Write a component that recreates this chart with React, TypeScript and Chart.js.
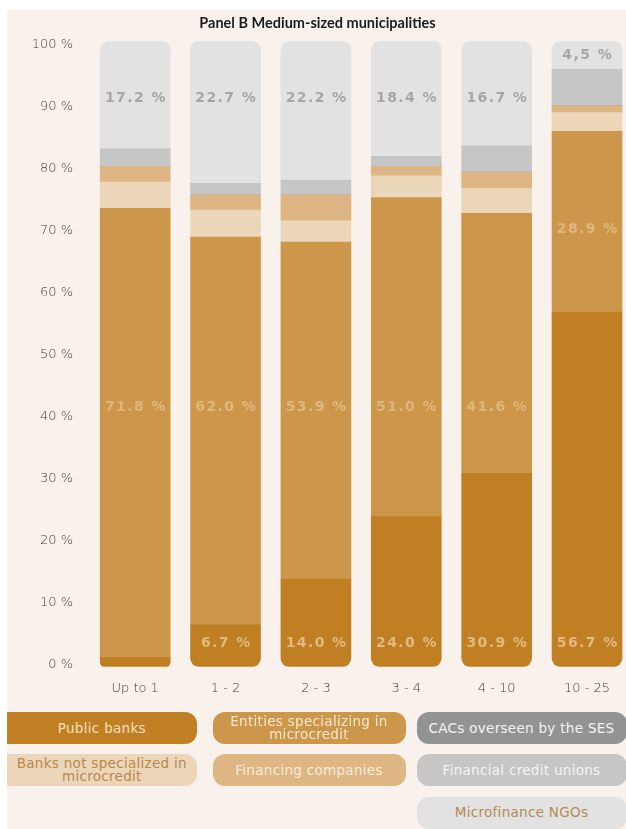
import React, { useEffect, useRef } from "react";
import { Chart, registerables } from "chart.js";

Chart.register(...registerables);

// Municipality size groups (thousands of inhabitants)
const categories = ["Up to 1", "1 - 2", "2 - 3", "3 - 4", "4 - 10", "10 - 25"];

// Share of each provider type, per group (%), stacked bottom to top
const publicBanks = [1.5, 6.7, 14.0, 24.0, 30.9, 56.7];
const microcreditEntities = [71.8, 62.0, 53.9, 51.0, 41.6, 28.9];
const banksNotSpecialized = [4.2, 4.3, 3.4, 3.5, 4.0, 3.0];
const financingCompanies = [2.5, 2.4, 4.1, 1.5, 2.6, 1.1];
const cacsSes = [0, 0, 0, 0, 0, 0];
const creditUnions = [2.8, 1.9, 2.4, 1.6, 4.2, 5.8];
const microfinanceNgos = [17.2, 22.7, 22.2, 18.4, 16.7, 4.5];

// Decimal mark printed in the NGO figures of each group
const ngoDecimalMarks = [".", ".", ".", ".", ".", ","];

const yTickValues = [0, 10, 20, 30, 40, 50, 60, 70, 80, 90, 100];

const seriesNames = [
  "Public banks",
  "Entities specializing in\nmicrocredit",
  "Banks not specialized in\nmicrocredit",
  "Financing companies",
  "CACs overseen by the SES",
  "Financial credit unions",
  "Microfinance NGOs",
];

const seriesValues = [
  publicBanks,
  microcreditEntities,
  banksNotSpecialized,
  financingCompanies,
  cacsSes,
  creditUnions,
  microfinanceNgos,
];

const fillColors = ["#c17f24", "#cc974b", "#ecd6b9", "#deb683", "#939393", "#c6c6c6", "#e2e2e2"];
const legendTextColors = ["#f6e0c0", "#f8e8cf", "#b8884a", "#f8ecda", "#f3f3f3", "#f4f4f4", "#b58a52"];

// Legend grid: [column, row] of each series
const legendCells: [number, number][] = [
  [0, 0],
  [1, 0],
  [0, 1],
  [1, 1],
  [2, 0],
  [2, 1],
  [2, 2],
];

const BG = "#f9f1eb";
const RADIUS = 9;

function fmt(v: number, mark = ".") {
  return v.toFixed(1).replace(".", mark) + " %";
}

const valueLabels = {
  id: "valueLabels",
  afterDatasetsDraw(chart: any) {
    const { ctx } = chart;
    const xs = chart.scales.x;
    const ys = chart.scales.y;
    ctx.save();
    ctx.font = "bold 14px 'DejaVu Sans'";
    (ctx as any).letterSpacing = "1.4px";
    ctx.textAlign = "center";
    ctx.textBaseline = "middle";
    const put = (t: string, x: number, v: number, c: string) => {
      ctx.fillStyle = c;
      ctx.fillText(t, x + 0.7, ys.getPixelForValue(v));
    };
    categories.forEach((_, i) => {
      const cx = xs.getPixelForValue(i);
      const pb = publicBanks[i];
      if (pb >= 5) put(fmt(pb), cx, 3.8, "#e2b97f");
      const em = microcreditEntities[i];
      const eLevel = em >= 40 ? 41.4 : pb + em / 2 - 1.2;
      put(fmt(em), cx, eLevel, "#dfb77d");
      const total = seriesValues.reduce((s, arr) => s + arr[i], 0);
      const ng = microfinanceNgos[i];
      const nLevel = ng >= 10 ? 90.8 : total - ng / 2;
      put(fmt(ng, ngoDecimalMarks[i]), cx, nLevel, "#a6a6a6");
    });
    ctx.restore();
  },
};

function ChartCanvas() {
  const ref = useRef<HTMLCanvasElement>(null);
  useEffect(() => {
    if (!ref.current) return;
    const last = seriesValues.length - 1;
    const chart = new Chart(ref.current, {
      type: "bar",
      data: {
        labels: categories,
        datasets: seriesValues.map((vals, k) => ({
          label: seriesNames[k],
          data: vals,
          backgroundColor: fillColors[k],
          borderWidth: 0,
          borderSkipped: false,
          borderRadius:
            k === 0
              ? { topLeft: 0, topRight: 0, bottomLeft: RADIUS, bottomRight: RADIUS }
              : k === last
              ? { topLeft: RADIUS, topRight: RADIUS, bottomLeft: 0, bottomRight: 0 }
              : 0,
          barThickness: 70,
        })),
      },
      options: {
        responsive: false,
        animation: false,
        devicePixelRatio: 1,
        layout: { padding: { top: 41.3, bottom: 13.3, left: 0, right: 27.8 } },
        plugins: { legend: { display: false }, tooltip: { enabled: false }, title: { display: false } },
        scales: {
          x: {
            stacked: true,
            offset: true,
            grid: { display: false, drawTicks: false },
            border: { display: false },
            ticks: { color: "#3f3f3f", font: { family: "'DejaVu Sans'", size: 13, weight: "200" as any }, padding: 14 },
            afterFit: (s: any) => {
              s.height = 40;
            },
          },
          y: {
            stacked: true,
            min: 0,
            max: 100,
            display: false,
          },
          yTicks: {
            position: "left",
            min: -0.4,
            max: 100.5,
            grid: { display: false, drawTicks: false },
            border: { display: false },
            afterBuildTicks: (s: any) => {
              s.ticks = yTickValues.map((v) => ({ value: v }));
            },
            afterFit: (s: any) => {
              s.width = 90;
            },
            ticks: {
              padding: 17,
              color: "#3f3f3f",
              font: { family: "'DejaVu Sans'", size: 13, weight: "200" as any },
              callback: (v: any) => `${v} %`,
            },
          },
        },
      },
      plugins: [valueLabels],
    });
    return () => chart.destroy();
  }, []);
  return (
    <canvas
      ref={ref}
      width={660}
      height={720}
      style={{ position: "absolute", left: -7, top: -10, width: 660, height: 720 }}
    />
  );
}

const colLeft = [-12, 205.5, 409.5];
const colWidth = [201.7, 193, 210];
const rowTop = [702.3, 744, 786.7];

export default function App() {
  return (
    <div
      style={{
        position: "absolute",
        left: 0,
        top: 0,
        width: 626,
        height: 829,
        background: "#ffffff",
        overflow: "hidden",
      }}
    >
      <div
        style={{
          position: "absolute",
          left: 7,
          top: 10,
          width: 619,
          height: 819,
          background: BG,
          overflow: "hidden",
        }}
      >
        <ChartCanvas />
        <div
          style={{
            position: "absolute",
            left: 0,
            top: 4,
            width: 621,
            textAlign: "center",
            font: "bold 14.5px Lato",
            color: "#1c1c1c",
            lineHeight: "17px",
          }}
        >
          Panel B Medium-sized municipalities
        </div>
        {seriesNames.map((name, k) => {
          const [c, r] = legendCells[k];
          return (
            <div
              key={k}
              style={{
                position: "absolute",
                left: colLeft[c],
                top: rowTop[r],
                width: colWidth[c],
                height: 32,
                borderRadius: 12,
                background: fillColors[k],
                color: legendTextColors[k],
                display: "flex",
                alignItems: "center",
                justifyContent: "center",
                textAlign: "center",
                whiteSpace: "pre-line",
                font: "13.5px 'DejaVu Sans'",
                letterSpacing: "0.3px",
                lineHeight: "13px",
                paddingLeft: c === 0 ? 12 : 0,
                boxSizing: "border-box",
              }}
            >
              {name}
            </div>
          );
        })}
      </div>
    </div>
  );
}
